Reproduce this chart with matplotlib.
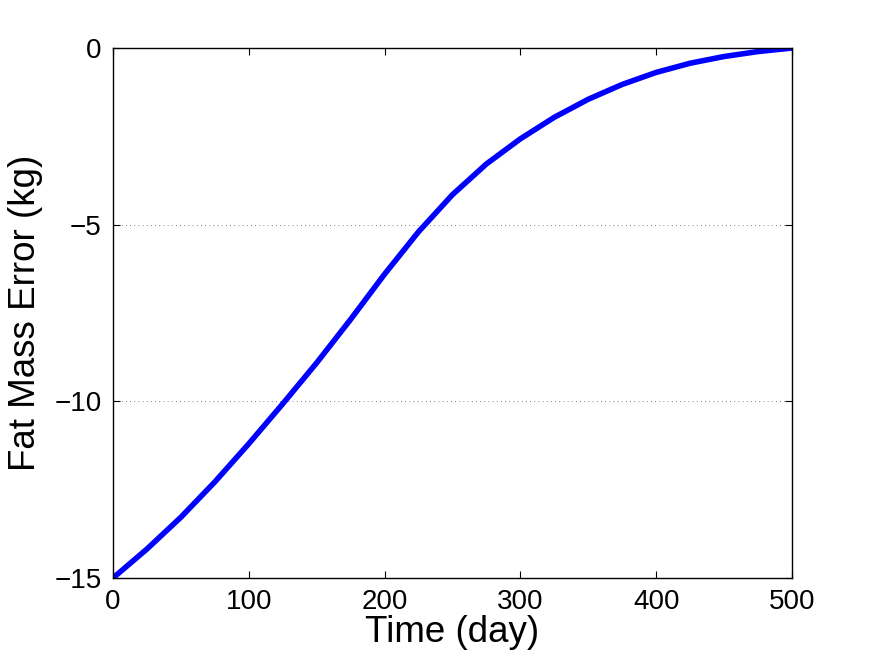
import matplotlib
matplotlib.use("Agg")
import matplotlib.pyplot as plt

# values
days = [0, 25, 50, 75, 100, 125, 150, 175, 200, 225, 250,
        275, 300, 325, 350, 375, 400, 425, 450, 475, 500]
fat_error = [-15.0, -14.18, -13.28, -12.28, -11.2, -10.07, -8.91, -7.68, -6.4, -5.2, -4.15,
             -3.28, -2.57, -1.96, -1.45, -1.03, -0.69, -0.43, -0.24, -0.1, 0.0]

x_ticks = [0, 100, 200, 300, 400, 500]
y_ticks = [-15, -10, -5, 0]

plt.rcParams["font.family"] = ["Liberation Sans", "DejaVu Sans"]

fig = plt.figure(figsize=(8.73, 6.57), dpi=100)
ax = fig.add_axes([0.1294, 0.1202, 0.7778, 0.8067])

ax.plot(days, fat_error, color="#0000ff", linewidth=4,
        solid_capstyle="round", solid_joinstyle="round")

ax.set_xlim(0, 500)
ax.set_ylim(-15, 0)
ax.set_xticks(x_ticks)
ax.set_yticks(y_ticks)
ax.tick_params(direction="in", length=5, width=0.8, labelsize=20,
               top=True, right=True, pad=8)
ax.yaxis.grid(True, linestyle=(0, (1, 4)), color="#555555", linewidth=0.6)
ax.set_axisbelow(True)
for s in ax.spines.values():
    s.set_linewidth(1.0)

ax.set_xlabel("Time (day)", fontsize=26.5, labelpad=0)
ax.set_ylabel("Fat Mass Error (kg)", fontsize=26.5, labelpad=8)

fig.savefig("out.png", dpi=100)
